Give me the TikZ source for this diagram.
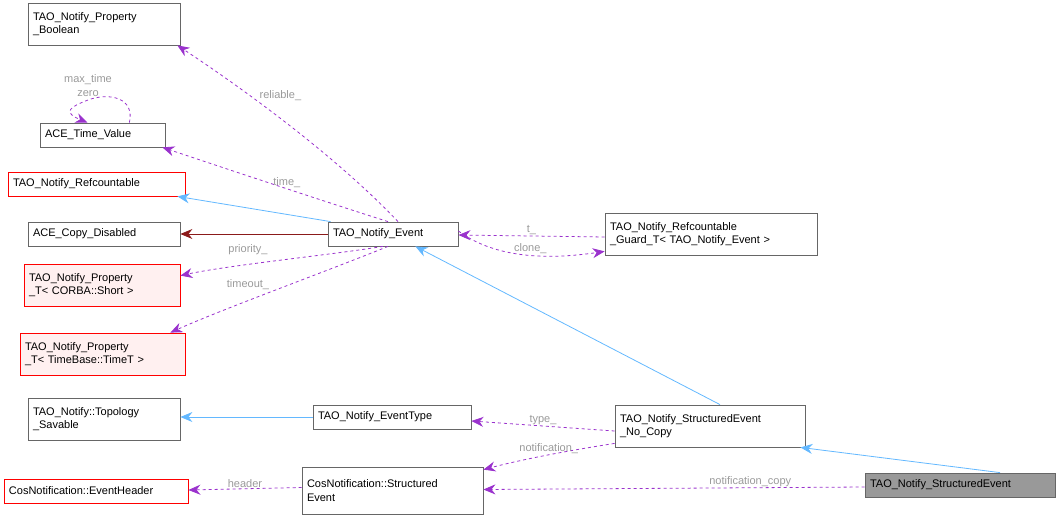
\documentclass[tikz,border=0pt]{standalone}
\usepackage{fontspec}
\setmainfont{Liberation Sans}
\usetikzlibrary{arrows.meta}
\definecolor{pur}{HTML}{9A32CD}
\definecolor{blu}{HTML}{63B8FF}
\definecolor{drd}{HTML}{8B1A1A}
\definecolor{lbl}{HTML}{9A9A9A}
\begin{document}
\begin{tikzpicture}[x=1pt,y=-1pt,line width=0.8pt,
 every node/.style={font=\fontsize{11}{13.5}\selectfont},
 box/.style={draw=black!60,fill=white,align=left,inner sep=0pt},
 rbox/.style={box,draw=red},
 pbox/.style={box,draw=red,fill=red!6},
 gbox/.style={box,fill=black!40},
 use/.style={pur,dashed,-{Stealth[length=12pt,width=10pt]}},
 inh/.style={blu,-{Stealth[length=12pt,width=10pt]}},
 lab/.style={text=lbl,inner sep=1pt}]
\useasboundingbox (0,0) rectangle (1060,519);
\def\bx#1#2#3#4#5#6{\node[#2,minimum width=#5-#3,minimum height=#6-#4,text width=#5-#3-10] (#1) at ({(#3+#5)/2},{(#4+#6)/2})}
\bx{pb}{box}{28}{3}{180}{45}{TAO\_Notify\_Property\\\_Boolean};
\bx{tv}{box}{40}{123}{165}{147}{ACE\_Time\_Value};
\bx{rc}{rbox}{8}{172}{185}{196}{TAO\_Notify\_Refcountable};
\bx{cd}{box}{28}{222}{180}{246}{ACE\_Copy\_Disabled};
\bx{ps}{pbox}{24}{264}{180}{306}{TAO\_Notify\_Property\\\_T< CORBA::Short >};
\bx{pt}{pbox}{20}{333}{185}{375}{TAO\_Notify\_Property\\\_T< TimeBase::TimeT >};
\bx{ts}{box}{28}{398}{180}{440}{TAO\_Notify::Topology\\\_Savable};
\bx{eh}{rbox}{4}{479}{188}{503}{CosNotification::EventHeader};
\bx{ev}{box}{328}{222}{458}{246}{TAO\_Notify\_Event};
\bx{gd}{box}{605}{213}{817}{255}{TAO\_Notify\_Refcountable\\\_Guard\_T< TAO\_Notify\_Event >};
\bx{et}{box}{313}{405}{471}{429}{TAO\_Notify\_EventType};
\bx{nc}{box}{615}{405}{805}{447}{TAO\_Notify\_StructuredEvent\\\_No\_Copy};
\bx{cs}{box}{302}{467}{483}{514}{CosNotification::Structured\\Event};
\bx{se}{gbox}{865}{473}{1055}{497}{TAO\_Notify\_StructuredEvent};
% edges
\draw[use] ([xshift=5pt]ev.north) .. controls (330,150) and (230,80) .. ([xshift=-3pt]pb.south east) node[pos=.6,lab,above right]{reliable\_};
\draw[use] ([xshift=-5pt]ev.north) .. controls (320,200) and (230,170) .. ([xshift=-3pt]tv.south east) node[pos=.45,lab,above]{time\_};
\draw[use] ([xshift=-36pt]tv.north east) .. controls (135,98) and (110,92) .. (88,100) .. controls (70,107) and (62,112) .. ([xshift=-15pt]tv.north) node[lab,pos=0,above=2pt,align=center]{max\_time\\zero};
\draw[inh] ([xshift=3pt]ev.north west) -- ([xshift=-8pt]rc.south east);
\draw[drd,-{Stealth[length=12pt,width=10pt]}] (ev.west) -- (cd.east);
\draw[use] ([xshift=-10pt]ev.south) .. controls (330,255) and (230,265) .. ([yshift=-12pt]ps.north east);
\node[lab] (lp) at (248,250) {priority\_};
\draw[use] ([xshift=-5pt]ev.south) .. controls (330,270) and (220,310) .. ([xshift=-15pt]pt.north east);
\node[lab] (lt) at (248,285) {timeout\_};
\draw[use] ([yshift=-3pt]gd.west) -- ([yshift=-1pt]ev.east) node[pos=.5,lab,above]{t\_};
\draw[use] ([yshift=3pt]ev.east) .. controls (500,262) and (560,258) .. ([yshift=4pt]gd.south west) node[pos=.5,lab,above]{clone\_};
\draw[inh] ([xshift=10pt]nc.north) -- ([xshift=-43pt]ev.south east);
\draw[inh] (et.west) -- ([yshift=2pt]ts.east);
\draw[use] ([yshift=-5pt]nc.west) -- ([yshift=-4pt]et.east) node[pos=.5,lab,above]{type\_};
\draw[use] ([yshift=4pt]nc.south west) .. controls (560,452) and (520,460) .. ([yshift=-3pt]cs.north east) node[pos=.45,lab,above]{notification\_};
\draw[inh] ([xshift=40pt]se.north) -- ([xshift=-5pt]nc.south east);
\draw[use] ([yshift=-2pt]se.west) -- ([yshift=1pt]cs.east) node[pos=.3,lab,above]{notification\_copy};
\draw[use] ([yshift=3pt]cs.west) -- ([yshift=1pt]eh.east) node[pos=.5,lab,above]{header};
\end{tikzpicture}
\end{document}
